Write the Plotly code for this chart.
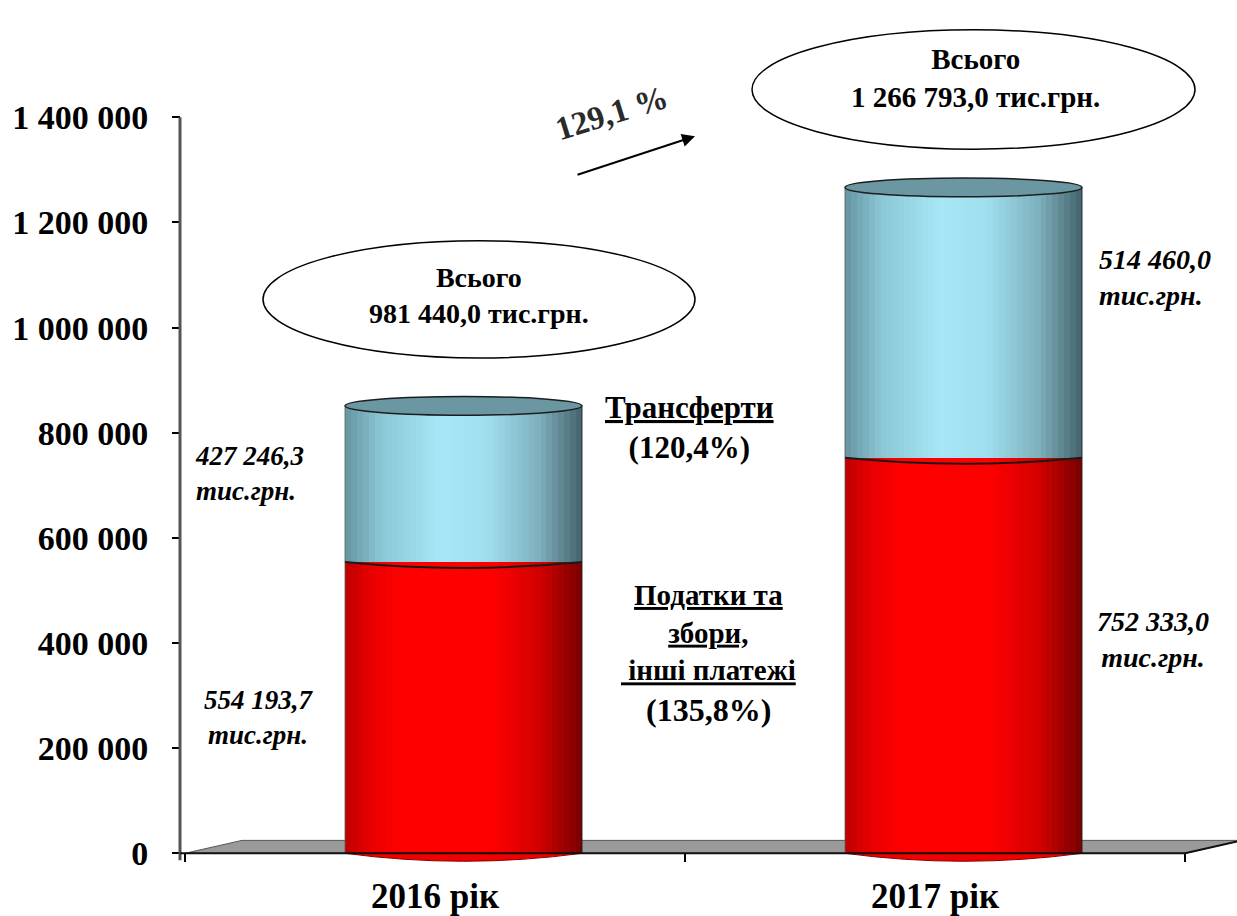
import plotly.graph_objects as go

# ---------------- data ----------------
years = ["2016 рік", "2017 рік"]
taxes = [554193.7, 752333.0]            # Податки та збори, інші платежі (bar heights)
transfers = [297000.0, 514460.0]        # Трансферти (bar heights as drawn)
tax_labels = ["554 193,7", "752 333,0"]
transfer_labels = ["427 246,3", "514 460,0"]
total_labels = ["981 440,0", "1 266 793,0"]
y_tickvals = [0, 200000, 400000, 600000, 800000, 1000000, 1200000, 1400000]
y_ticktext = ["0", "200 000", "400 000", "600 000", "800 000", "1 000 000", "1 200 000", "1 400 000"]
growth_total = "129,1 %"
growth_transfers = "(120,4%)"
growth_taxes = "(135,8%)"
unit = "тис.грн."

# ---------------- layout geometry ----------------
W, H = 1237, 916
Y0_PX, YTOP_PX, YTOP_VAL = 858, 118, 1400000
K = YTOP_VAL / (Y0_PX - YTOP_PX)


def ydata(py):
    return (Y0_PX - py) * K


def xdata(px):
    return -0.5 + (px - 185) / 500.0


def xp(px):
    return px / W


def yp(py):
    return 1 - py / H


FONT = "Liberation Serif"
bar_w = 0.474
shift = 0.057
N = 40


def interp(anchors, t):
    for (t0, c0), (t1, c1) in zip(anchors[:-1], anchors[1:]):
        if t0 <= t <= t1:
            f = (t - t0) / (t1 - t0) if t1 > t0 else 0
            c = [round(a + (b - a) * f) for a, b in zip(c0, c1)]
            return "rgb(%d,%d,%d)" % tuple(c)
    c = anchors[-1][1]
    return "rgb(%d,%d,%d)" % tuple(c)


red_anchors = [(0.0, (190, 0, 0)), (0.12, (236, 0, 0)), (0.25, (255, 0, 0)),
               (0.62, (255, 0, 0)), (0.82, (210, 0, 0)), (1.0, (120, 0, 0))]
blue_anchors = [(0.0, (100, 148, 160)), (0.15, (140, 198, 212)), (0.4, (166, 231, 247)),
                (0.6, (160, 222, 238)), (0.82, (125, 175, 188)), (1.0, (68, 100, 108))]

fig = go.Figure()
xs = list(range(len(years)))
for i in range(N):
    t = (i + 0.5) / N
    off = shift - bar_w / 2 + i * bar_w / N
    wdt = bar_w / N if i == N - 1 else bar_w / N * 1.15
    fig.add_trace(go.Bar(x=xs, y=taxes, base=[0] * len(xs), width=[wdt] * len(xs),
                         offset=off, marker=dict(color=interp(red_anchors, t), line=dict(width=0), opacity=1),
                         hoverinfo="skip", showlegend=False))
    fig.add_trace(go.Bar(x=xs, y=transfers, base=taxes, width=[wdt] * len(xs),
                         offset=off, marker=dict(color=interp(blue_anchors, t), line=dict(width=0), opacity=1),
                         hoverinfo="skip", showlegend=False))

shapes = []
# floor
fdx, fdy = 57 / 500.0, 13 * K
shapes.append(dict(type="path", layer="below", xref="x", yref="y",
                   path=f"M -0.5,0 L 1.5,0 L {1.5 + fdx},{fdy} L {-0.5 + fdx},{fdy} Z",
                   fillcolor="#9a9a9a", line=dict(color="#555555", width=1)))

ry_top = 9.5 * K
sag_mid = 6 * K
sag_bot = 8 * K
for j in xs:
    cx = j + shift
    left, right = cx - bar_w / 2, cx + bar_w / 2
    v = taxes[j]
    tot = taxes[j] + transfers[j]
    # bottom curve
    shapes.append(dict(type="path", xref="x", yref="y",
                       path=f"M {left},0 Q {cx},{-2 * sag_bot} {right},0 Z",
                       fillcolor="#f20000", line=dict(color="#8a0000", width=1)))
    # side outlines
    shapes.append(dict(type="line", xref="x", yref="y", x0=left, x1=left, y0=0, y1=tot,
                       line=dict(color="rgba(90,90,90,0.8)", width=1)))
    shapes.append(dict(type="line", xref="x", yref="y", x0=right, x1=right, y0=0, y1=tot,
                       line=dict(color="rgba(30,30,30,0.9)", width=1)))
    # red / blue boundary
    shapes.append(dict(type="path", xref="x", yref="y",
                       path=f"M {left},{v} Q {cx},{v - 2 * sag_mid} {right},{v}",
                       line=dict(color="#1a1a1a", width=2)))
    # top cap
    shapes.append(dict(type="circle", xref="x", yref="y", x0=left, x1=right,
                       y0=tot - ry_top, y1=tot + ry_top,
                       fillcolor="#6a97a2", line=dict(color="#1e1e1e", width=1.5)))

# y axis line and x front edge
shapes.append(dict(type="line", xref="x", yref="y", x0=xdata(180), x1=xdata(180), y0=ydata(865), y1=YTOP_VAL,
                   line=dict(color="#555555", width=3)))
shapes.append(dict(type="line", xref="x", yref="y", x0=xdata(180), x1=1.5, y0=0, y1=0,
                   line=dict(color="#111111", width=2)))
shapes.append(dict(type="line", xref="x", yref="y", x0=1.5, x1=1.5 + fdx * 1.2, y0=0, y1=fdy * 1.2,
                   line=dict(color="#111111", width=2)))

# callout ellipses
for (x0, y0, x1, y1) in [(263, 242, 695, 360), (752, 30, 1195, 150)]:
    shapes.append(dict(type="circle", xref="paper", yref="paper", layer="above",
                       x0=xp(x0), x1=xp(x1), y0=yp(y1), y1=yp(y0),
                       fillcolor="white", line=dict(color="black", width=1.5)))

annotations = []


def txt(text, px, py, size, italic=False, align="center", angle=0, color="black"):
    annotations.append(dict(text=text, x=xp(px), y=yp(py), xref="paper", yref="paper",
                            showarrow=False, xanchor=align, yanchor="middle", align=align,
                            textangle=angle,
                            font=dict(family=FONT, size=size, color=color, weight="bold",
                                      style="italic" if italic else "normal")))


txt(f"Всього<br>{total_labels[0]} {unit}", 479, 297, 28)
txt(f"Всього<br>{total_labels[1]} {unit}", 975, 78, 29)
txt(growth_total, 612, 114, 33, angle=-17, color="#2a2a2a")
annotations.append(dict(text="", x=xp(695), y=yp(137), xref="paper", yref="paper",
                        ax=-119, ay=39, axref="pixel", ayref="pixel", showarrow=True,
                        arrowhead=2, arrowsize=1.3, arrowwidth=2, arrowcolor="black"))
txt(f"<u>Трансферти</u><br>{growth_transfers}", 690, 430, 31)
txt("<u>Податки та</u><br><u>збори,</u><br><u> інші платежі</u>", 708, 636, 29)
txt(growth_taxes, 708, 714, 32)
txt(f"<i>{transfer_labels[0]}</i><br><i>{unit}</i>", 193, 476, 27, italic=True, align="left")
txt(f"{tax_labels[0]}<br>{unit}", 259, 721, 27, italic=True)
txt(f"{transfer_labels[1]}<br>{unit}", 1097, 279, 28, italic=True, align="left")
txt(f"{tax_labels[1]}<br>{unit}", 1153, 643, 28, italic=True)

fig.update_layout(
    width=W, height=H, autosize=False,
    margin=dict(l=0, r=0, t=0, b=0, pad=0),
    paper_bgcolor="white", plot_bgcolor="white",
    barmode="overlay", bargap=0,
    showlegend=False,
    shapes=shapes, annotations=annotations,
    xaxis=dict(domain=[0, 1], range=[xdata(0), xdata(W)], anchor="free", position=1 - Y0_PX / H,
               showline=False, showgrid=False, zeroline=False,
               tickmode="array", tickvals=xs, ticktext=years, ticks="",
               ticklabelstandoff=19,
               tickfont=dict(family=FONT, size=35, color="black", weight="bold"),
               minor=dict(tickmode="array", tickvals=[-0.5, 0.5, 1.5], ticks="outside", ticklen=8,
                          tickwidth=2, tickcolor="black", showgrid=False)),
    yaxis=dict(domain=[0, 1], range=[ydata(H), ydata(0)], anchor="free", position=180 / W,
               showline=False, showgrid=False, zeroline=False,
               tickmode="array", tickvals=y_tickvals, ticktext=y_ticktext,
               ticks="outside", ticklen=8, tickwidth=2, tickcolor="black",
               ticklabelstandoff=17,
               tickfont=dict(family=FONT, size=34, color="black", weight="bold")),
)

fig.write_html("out.html", config={"displayModeBar": False},
               post_script="document.body.style.margin='0';")
